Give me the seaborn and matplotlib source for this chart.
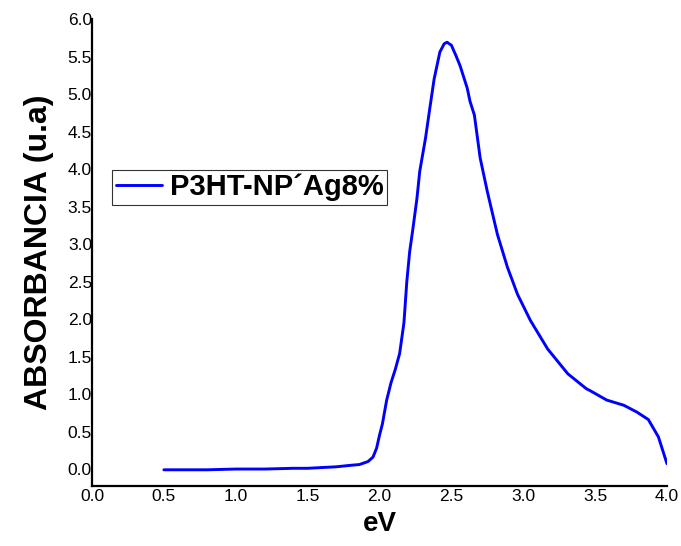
import matplotlib
matplotlib.use("Agg")
import matplotlib.pyplot as plt
import seaborn as sns
import pandas as pd

ev = [0.5, 0.8, 1.0, 1.2, 1.4, 1.5, 1.6, 1.7, 1.8, 1.86, 1.92, 1.955, 1.98, 2.0,
      2.02, 2.05, 2.08, 2.11, 2.14, 2.17, 2.19, 2.21, 2.23, 2.26, 2.28, 2.32, 2.35,
      2.38, 2.42, 2.45, 2.47, 2.5, 2.53, 2.56, 2.61, 2.63, 2.66, 2.70, 2.75, 2.82,
      2.89, 2.96, 3.05, 3.17, 3.31, 3.42, 3.44, 3.47, 3.58, 3.70, 3.79, 3.87, 3.94, 4.0]
absorbancia = [-0.01, -0.01, 0.0, 0.0, 0.01, 0.01, 0.02, 0.03, 0.05, 0.06, 0.1, 0.16,
               0.28, 0.45, 0.6, 0.92, 1.15, 1.33, 1.54, 1.95, 2.5, 2.9, 3.17, 3.6, 3.97,
               4.41, 4.81, 5.2, 5.56, 5.67, 5.69, 5.65, 5.52, 5.38, 5.08, 4.90, 4.72,
               4.15, 3.70, 3.13, 2.69, 2.33, 1.98, 1.60, 1.27, 1.10, 1.07, 1.04, 0.92,
               0.85, 0.76, 0.66, 0.43, 0.07]
series_name = "P3HT-NP\u00b4Ag8%"
xticks = [0.0, 0.5, 1.0, 1.5, 2.0, 2.5, 3.0, 3.5, 4.0]
yticks = [0.0, 0.5, 1.0, 1.5, 2.0, 2.5, 3.0, 3.5, 4.0, 4.5, 5.0, 5.5, 6.0]

df = pd.DataFrame({"eV": ev, "abs": absorbancia, "serie": series_name})

sns.set_style("white")
plt.rcParams["font.family"] = ["Liberation Sans", "DejaVu Sans"]
plt.rcParams["text.color"] = "black"
plt.rcParams["axes.labelcolor"] = "black"

fig = plt.figure(figsize=(6.81, 5.46), dpi=100)
ax = fig.add_axes([92 / 681, 60 / 546, 575 / 681, 467 / 546])

sns.lineplot(data=df, x="eV", y="abs", hue="serie", palette=["#0000ff"],
             linewidth=2.1, sort=False, estimator=None, ax=ax)

ax.set_xlim(0.0, 4.0)
ax.set_ylim(-0.226, 6.0)
ax.set_xticks(xticks)
ax.set_xticklabels([f"{t:.1f}" for t in xticks])
ax.set_yticks(yticks)
ax.set_yticklabels([f"{t:.1f}" for t in yticks])
ax.tick_params(axis="both", length=0, labelsize=12.5, colors="black")
ax.tick_params(axis="y", pad=0)
ax.tick_params(axis="x", pad=2)

for s in ["top", "right"]:
    ax.spines[s].set_visible(False)
for s in ["left", "bottom"]:
    ax.spines[s].set_visible(True)
    ax.spines[s].set_color("black")
    ax.spines[s].set_linewidth(1.6)

ax.set_xlabel("eV", fontsize=20, fontweight="bold", labelpad=5, color="black")
ax.set_ylabel("ABSORBANCIA (u.a)", fontsize=23, fontweight="bold", labelpad=10,
              color="black")

leg = ax.legend(loc="upper left", bbox_to_anchor=(0.035, 0.677),
                prop={"weight": "bold", "size": 21}, frameon=True, fancybox=False,
                handlelength=1.6, handletextpad=0.25, borderpad=0.12,
                borderaxespad=0.0)
leg.get_frame().set_edgecolor("black")
leg.get_frame().set_linewidth(0.8)
for t in leg.get_texts():
    t.set_color("black")

fig.savefig("out.png", dpi=100)
